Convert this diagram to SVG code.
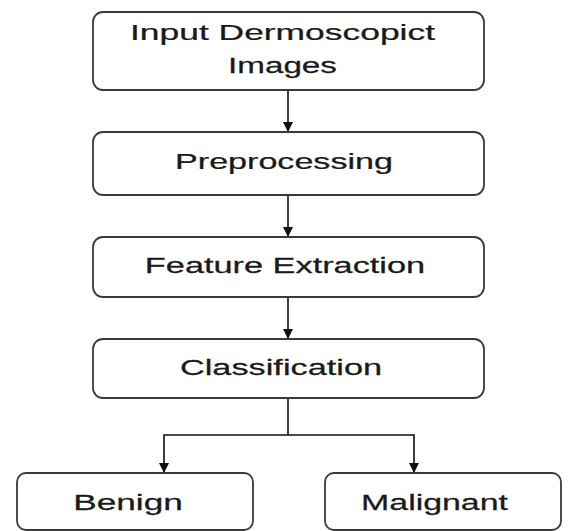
<svg xmlns="http://www.w3.org/2000/svg" width="578" height="531" viewBox="0 0 578 531">
  <style>
    .box { fill: #ffffff; stroke: #3a3a3a; stroke-width: 1.8; }
    .label { font-family: "Liberation Sans", Arial, sans-serif; font-size: 22px; fill: #1a1a1a; text-anchor: middle; stroke: #1a1a1a; stroke-width: 0.25; }
    .wire { fill: none; stroke: #111111; stroke-width: 1.6; }
  </style>
  <defs>
    <marker id="arrow" viewBox="0 0 10 10" refX="10" refY="5" markerWidth="10" markerHeight="10" markerUnits="userSpaceOnUse" orient="auto">
      <path d="M0,0 L10,5 L0,10 Z" fill="#111111"/>
    </marker>
  </defs>
  <rect width="578" height="531" fill="#ffffff"/>

  <g id="connectors">
    <path class="wire" d="M288,90 V132" marker-end="url(#arrow)"/>
    <path class="wire" d="M288,195 V237" marker-end="url(#arrow)"/>
    <path class="wire" d="M288,297 V339" marker-end="url(#arrow)"/>
    <path class="wire" d="M288,398 V435"/>
    <path class="wire" d="M288,435 H164 V473" marker-end="url(#arrow)"/>
    <path class="wire" d="M288,435 H414 V473" marker-end="url(#arrow)"/>
  </g>

  <!-- labels are drawn in a horizontally widened sans face -->
  <g id="input">
    <rect class="box" x="93" y="12" width="391" height="78" rx="10"/>
    <text class="label" transform="translate(282.5,40) scale(1.61,1)">Input Dermoscopict</text>
    <text class="label" transform="translate(282.5,73) scale(1.51,1)">Images</text>
  </g>

  <g id="preprocessing">
    <rect class="box" x="93" y="132" width="391" height="63" rx="10"/>
    <text class="label" transform="translate(284,169) scale(1.55,1)">Preprocessing</text>
  </g>

  <g id="feature-extraction">
    <rect class="box" x="93" y="237" width="391" height="60" rx="10"/>
    <text class="label" transform="translate(285,273) scale(1.56,1)">Feature Extraction</text>
  </g>

  <g id="classification">
    <rect class="box" x="93" y="339" width="391" height="59" rx="10"/>
    <text class="label" transform="translate(281,375) scale(1.56,1)">Classification</text>
  </g>

  <g id="benign">
    <rect class="box" x="17" y="473" width="236" height="57" rx="9"/>
    <text class="label" transform="translate(128,510) scale(1.6,1)">Benign</text>
  </g>

  <g id="malignant">
    <rect class="box" x="325" y="473" width="236" height="57" rx="9"/>
    <text class="label" transform="translate(434.5,510) scale(1.54,1)">Malignant</text>
  </g>
</svg>
